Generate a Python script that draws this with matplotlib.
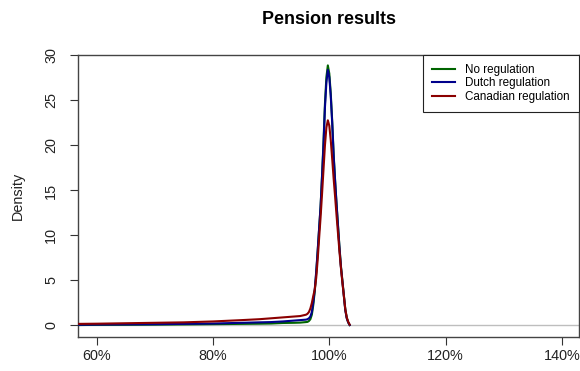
import matplotlib
matplotlib.use('Agg')
import matplotlib.pyplot as plt
from matplotlib.ticker import FuncFormatter

# Pension outcome (share of target) and estimated densities
x_vals = [0.57, 0.60, 0.65, 0.70, 0.75, 0.80, 0.85, 0.88, 0.90, 0.92, 0.94, 0.95,
          0.960, 0.9625, 0.965, 0.9675, 0.970, 0.9725, 0.975, 0.9775, 0.980, 0.9825,
          0.985, 0.9875, 0.990, 0.9925, 0.995, 0.9975, 1.000, 1.0025, 1.005, 1.0075,
          1.010, 1.0125, 1.015, 1.0175, 1.020, 1.0225, 1.025, 1.0275, 1.030, 1.0325, 1.035]

no_reg = [0.05, 0.07, 0.08, 0.10, 0.12, 0.15, 0.18, 0.20, 0.22, 0.28, 0.30, 0.32,
          0.38, 0.40, 0.50, 0.70, 1.2, 2.3, 3.8, 5.8, 8.2, 10.7,
          13.2, 16.6, 20.3, 24.6, 27.6, 28.9, 28.0, 25.8, 22.7, 19.0,
          16.1, 13.5, 11.1, 8.7, 6.6, 5.0, 3.4, 1.8, 0.85, 0.35, 0.05]

dutch = [0.08, 0.10, 0.12, 0.14, 0.18, 0.22, 0.30, 0.35, 0.38, 0.45, 0.55, 0.60,
         0.65, 0.70, 0.80, 1.0, 1.5, 2.6, 4.0, 6.0, 8.3, 10.8,
         13.2, 16.5, 20.0, 24.2, 27.0, 28.4, 27.6, 25.5, 22.5, 18.8,
         16.0, 13.4, 11.0, 8.6, 6.5, 4.9, 3.3, 1.7, 0.8, 0.35, 0.05]

canadian = [0.18, 0.20, 0.25, 0.30, 0.35, 0.45, 0.60, 0.70, 0.80, 0.90, 1.00, 1.05,
            1.2, 1.3, 1.5, 1.9, 2.5, 3.3, 4.0, 5.3, 7.3, 9.7,
            12.0, 14.6, 17.3, 20.0, 22.0, 22.8, 22.2, 20.6, 18.5, 16.3,
            14.3, 12.2, 10.2, 8.2, 6.4, 4.8, 3.3, 1.8, 0.9, 0.4, 0.1]

series_names = ['No regulation', 'Dutch regulation', 'Canadian regulation']
series_colors = ['#006400', '#00008b', '#8b0000']

x_ticks = [0.6, 0.8, 1.0, 1.2, 1.4]
y_ticks = [0, 5, 10, 15, 20, 25, 30]

plt.rcParams['font.family'] = 'Liberation Sans'

fig = plt.figure(figsize=(5.8, 3.71), dpi=100)
ax = fig.add_axes([0.135, 0.0916, 0.863, 0.761])

ax.axhline(0, color='#bebebe', lw=1.0, zorder=1)
for ys, name, col in zip([no_reg, dutch, canadian], series_names, series_colors):
    ax.plot(x_vals, ys, color=col, lw=1.5, label=name, zorder=3)

ax.set_xlim(0.5685, 1.429)
ax.set_ylim(-1.28, 30.09)
ax.set_xticks(x_ticks)
ax.set_yticks(y_ticks)
ax.xaxis.set_major_formatter(FuncFormatter(lambda v, p: '%d%%' % round(v * 100)))
ax.tick_params(axis='both', direction='out', length=5.5, width=0.8, colors='#333333',
               labelsize=10.4, labelcolor='#222222')
ax.tick_params(axis='x', pad=3)
ax.tick_params(axis='y', pad=9)
for lab in ax.get_yticklabels():
    lab.set_rotation(90)
    lab.set_va('center')

for sp in ax.spines.values():
    sp.set_color('#444444')
    sp.set_linewidth(1.0)

fig.text(0.5666, 1 - 19 / 371, 'Pension results', ha='center', va='center',
         fontsize=12.9, fontweight='bold')
fig.text(17.5 / 580, 0.472, 'Density', rotation=90, ha='center', va='center',
         fontsize=10.4, color='#222222')

leg = ax.legend(loc='upper right', borderaxespad=0, fontsize=8.4, handlelength=1.95,
                handletextpad=0.86, borderpad=0.8, labelspacing=0.12, fancybox=False,
                framealpha=1, edgecolor='#222222')
leg.get_frame().set_linewidth(0.8)

fig.savefig('out.png', dpi=100)
plt.close(fig)
